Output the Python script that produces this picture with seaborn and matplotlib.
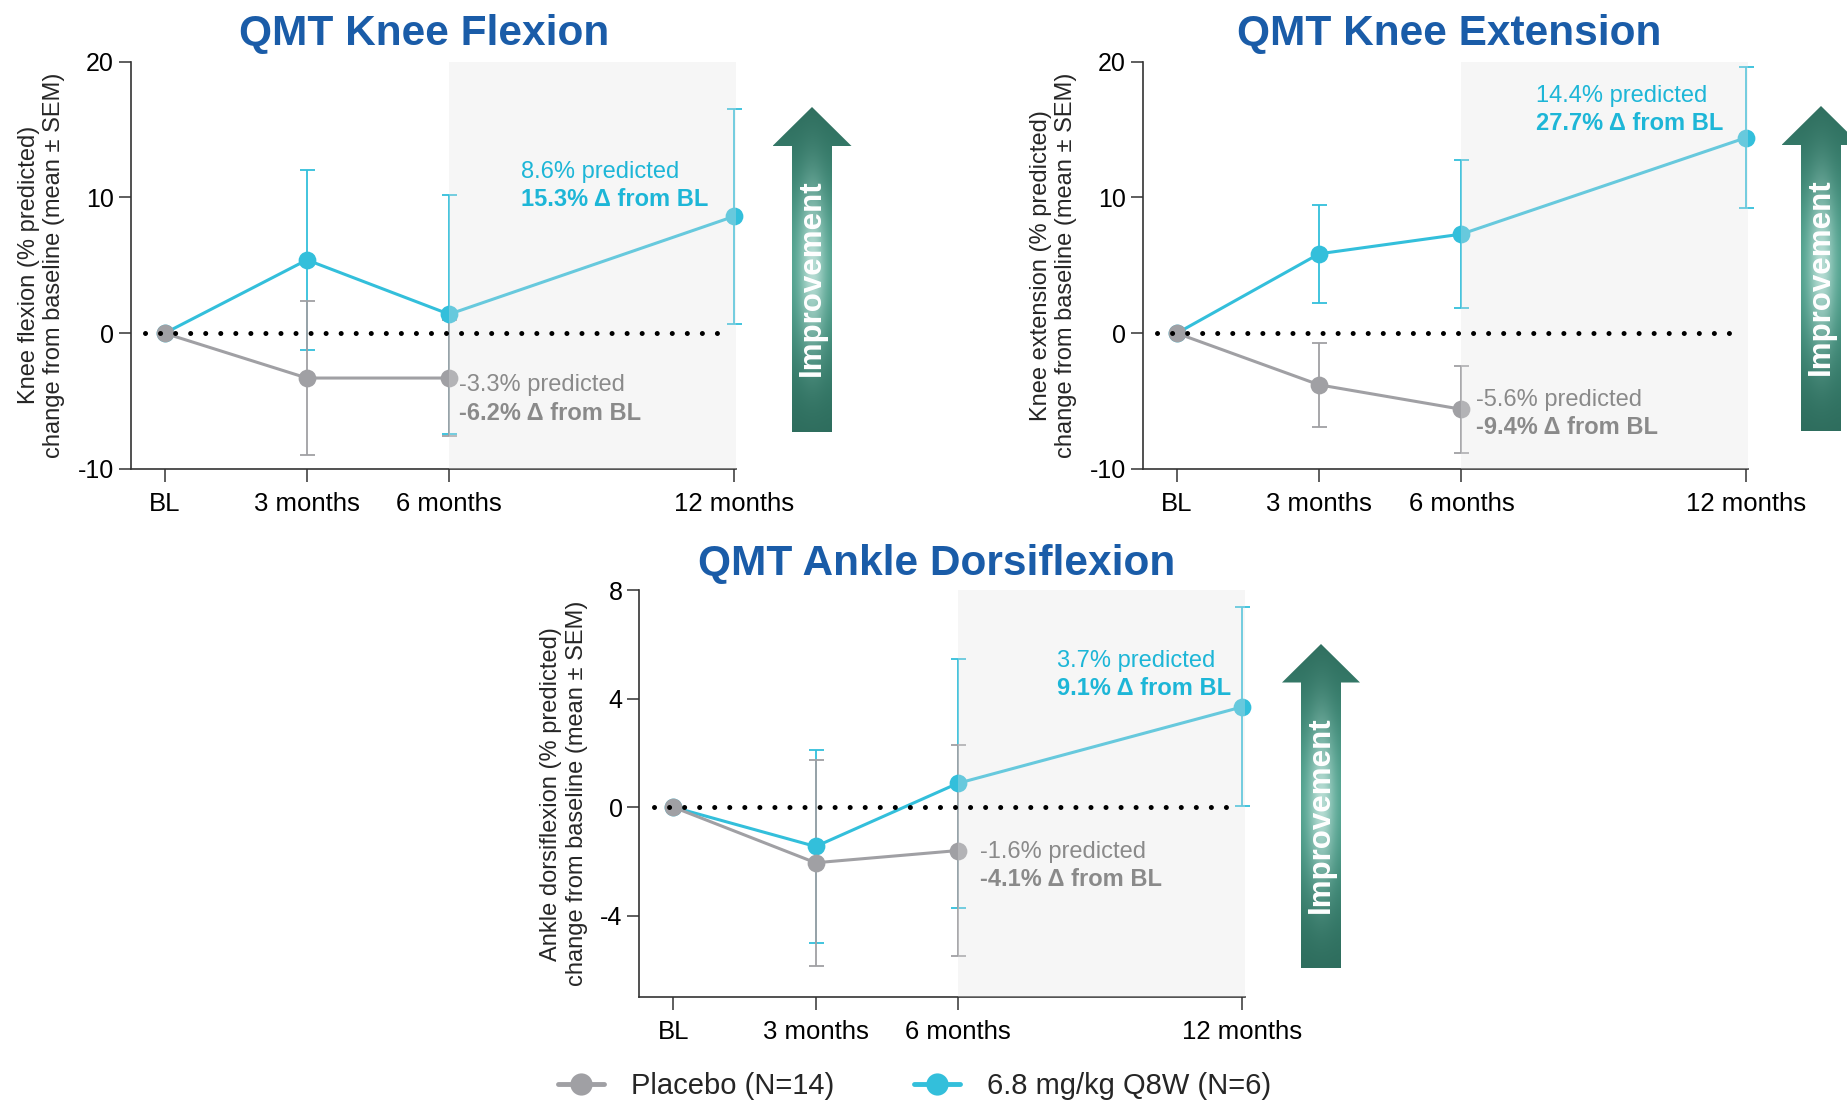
import numpy as np
import pandas as pd
import seaborn as sns
import matplotlib.pyplot as plt
from matplotlib.patches import Polygon
from matplotlib.lines import Line2D

# === Data ===
months = [0, 3, 6, 12]
month_labels = ["BL", "3 months", "6 months", "12 months"]
groups = ["Placebo (N=14)", "6.8 mg/kg Q8W (N=6)"]

# knee flexion
flex_pbo = [0.0, -3.3, -3.3]
flex_pbo_sem = [0.0, 5.65, 4.3]
flex_trt = [0.0, 5.4, 1.4, 8.6]
flex_trt_sem = [0.0, 6.6, 8.8, 7.9]

# knee extension
ext_pbo = [0.0, -3.8, -5.6]
ext_pbo_sem = [0.0, 3.1, 3.2]
ext_trt = [0.0, 5.85, 7.3, 14.4]
ext_trt_sem = [0.0, 3.6, 5.45, 5.2]

# ankle dorsiflexion
dorsi_pbo = [0.0, -2.05, -1.6]
dorsi_pbo_sem = [0.0, 3.8, 3.9]
dorsi_trt = [0.0, -1.45, 0.88, 3.7]
dorsi_trt_sem = [0.0, 3.55, 4.58, 3.67]

titles = ["QMT Knee Flexion", "QMT Knee Extension", "QMT Ankle Dorsiflexion"]
ylabels = ["Knee flexion (% predicted)\nchange from baseline (mean ± SEM)",
           "Knee extension (% predicted)\nchange from baseline (mean ± SEM)",
           "Ankle dorsiflexion (% predicted)\nchange from baseline (mean ± SEM)"]
notes_trt = [("8.6% predicted", "15.3% Δ from BL"),
             ("14.4% predicted", "27.7% Δ from BL"),
             ("3.7% predicted", "9.1% Δ from BL")]
notes_pbo = [("-3.3% predicted", "-6.2% Δ from BL"),
             ("-5.6% predicted", "-9.4% Δ from BL"),
             ("-1.6% predicted", "-4.1% Δ from BL")]

# === Style ===
CYAN = "#33bfdb"
GRAY = "#a0a0a4"
TXT_CYAN = "#1db6d7"
TXT_GRAY = "#8a8a8a"
TITLE_BLUE = "#1a5ca8"
W, H = 1847, 1102

sns.set_theme(style="ticks")
plt.rcParams["font.family"] = ["Liberation Sans", "DejaVu Sans"]
plt.rcParams["axes.unicode_minus"] = False

fig = plt.figure(figsize=(W / 100, H / 100), dpi=100)


def px_axes(left, top, width, height):
    return fig.add_axes([left / W, 1 - (top + height) / H, width / W, height / H])


def draw_panel(ax, pbo, pbo_sem, trt, trt_sem, ylim, yticks, ylabel,
               note_trt, pos_trt, note_pbo, pos_pbo, dy):
    df = pd.concat([
        pd.DataFrame({"month": months[:len(trt)], "value": trt, "sem": trt_sem, "group": groups[1]}),
        pd.DataFrame({"month": months[:len(pbo)], "value": pbo, "sem": pbo_sem, "group": groups[0]}),
    ], ignore_index=True)

    sns.lineplot(data=df, x="month", y="value", hue="group",
                 hue_order=[groups[1], groups[0]],
                 palette={groups[0]: GRAY, groups[1]: CYAN},
                 marker="o", markersize=12.8, markeredgewidth=0,
                 linewidth=2.2, errorbar=None, legend=False, ax=ax, zorder=3)
    for g, c in [(groups[1], CYAN), (groups[0], GRAY)]:
        sub = df[(df["group"] == g) & (df["month"] > 0)]
        ax.errorbar(sub["month"], sub["value"], yerr=sub["sem"], fmt="none",
                    ecolor=c, elinewidth=1.3, capsize=5.4, capthick=1.3, zorder=2.5)
    for art in ax.lines + ax.collections:
        art.set_clip_on(False)

    # shaded 6-12 month window, laid over the series
    ax.axvspan(6, 12.05, color="#e2e2e2", alpha=0.3, lw=0, zorder=5)
    ax.plot([-0.41, 11.9], [0, 0], color="black", lw=3.6,
            linestyle=(0, (0.01, 3.0)), dash_capstyle="round", zorder=6, clip_on=False)

    ax.text(pos_trt[0], pos_trt[1], note_trt[0], color=TXT_CYAN, fontsize=17, va="center", zorder=7)
    ax.text(pos_trt[0], pos_trt[1] - dy, note_trt[1], color=TXT_CYAN, fontsize=17,
            fontweight="bold", va="center", zorder=7)
    ax.text(pos_pbo[0], pos_pbo[1], note_pbo[0], color=TXT_GRAY, fontsize=17, va="center", zorder=7)
    ax.text(pos_pbo[0], pos_pbo[1] - dy, note_pbo[1], color=TXT_GRAY, fontsize=17,
            fontweight="bold", va="center", zorder=7)

    ax.set_xlim(-0.72, 12.05)
    ax.set_ylim(*ylim)
    ax.set_xticks(months)
    ax.set_xticklabels(month_labels)
    ax.set_yticks(yticks)
    ax.set_yticklabels([str(t) for t in yticks])
    ax.set_xlabel("")
    ax.set_ylabel(ylabel, fontsize=17, labelpad=9, linespacing=1.2)
    ax.tick_params(axis="both", direction="out", length=9, width=1.1, colors="#333333",
                   labelcolor="black")
    ax.tick_params(axis="x", pad=7.5, labelsize=18.5)
    ax.tick_params(axis="y", pad=3, labelsize=18)
    sns.despine(ax=ax)
    for s in ["left", "bottom"]:
        ax.spines[s].set_color("#333333")
        ax.spines[s].set_linewidth(1.2)
    ax.grid(False)


def draw_arrow(xc, tip, head_base, bottom, head_half=39.5, shaft_half=20, text_y=None):
    ax = px_axes(xc - head_half, tip, 2 * head_half, bottom - tip)
    ax.set_xlim(xc - head_half, xc + head_half)
    ax.set_ylim(bottom, tip)
    ax.axis("off")
    ny, nx = 300, 80
    yy, xx = np.mgrid[0:1:ny * 1j, 0:1:nx * 1j]
    length = bottom - tip
    yc = (head_base + (bottom - head_base) * 0.42 - tip) / length
    v = np.exp(-((yy - yc) / 0.33) ** 2)
    h = np.exp(-((xx - 0.5) / 0.17) ** 2)
    dark = np.array([0.17, 0.41, 0.35])
    mid = np.array([0.29, 0.62, 0.54])
    light = np.array([0.76, 0.89, 0.86])
    base = dark + (mid - dark) * v[..., None]
    img = base + (light - base) * (v ** 2 * h)[..., None] * 0.9
    im = ax.imshow(img, extent=(xc - head_half, xc + head_half, bottom, tip),
                   origin="upper", aspect="auto", interpolation="bilinear")
    poly = Polygon([(xc, tip), (xc + head_half, head_base), (xc + shaft_half, head_base),
                    (xc + shaft_half, bottom), (xc - shaft_half, bottom),
                    (xc - shaft_half, head_base), (xc - head_half, head_base)],
                   closed=True, facecolor="none", edgecolor="none")
    ax.add_patch(poly)
    im.set_clip_path(poly)
    ax.text(xc, text_y, "Improvement", rotation=90, color="white", fontsize=22.5,
            fontweight="bold", ha="center", va="center")


# === Panels ===
ax1 = px_axes(130.5, 61.7, 605.6, 407.3)
draw_panel(ax1, flex_pbo, flex_pbo_sem, flex_trt, flex_trt_sem, (-10, 20), [-10, 0, 10, 20],
           ylabels[0], notes_trt[0], (7.52, 11.9), notes_pbo[0], (6.2, -3.83), 2.05)

ax2 = px_axes(1142.7, 61.7, 605.6, 407.3)
draw_panel(ax2, ext_pbo, ext_pbo_sem, ext_trt, ext_trt_sem, (-10, 20), [-10, 0, 10, 20],
           ylabels[1], notes_trt[1], (7.58, 17.5), notes_pbo[1], (6.31, -4.9), 2.05)

ax3 = px_axes(639.2, 590.2, 605.6, 406.8)
draw_panel(ax3, dorsi_pbo, dorsi_pbo_sem, dorsi_trt, dorsi_trt_sem, (-7, 8), [-4, 0, 4, 8],
           ylabels[2], notes_trt[2], (8.08, 5.38), notes_pbo[2], (6.46, -1.65), 1.02)

for (x, y), t in zip([(423.7, 33.5), (1449, 33.5), (937, 563.5)], titles):
    fig.text(x / W, 1 - y / H, t, fontsize=30.5, fontweight="bold", color=TITLE_BLUE,
             ha="center", va="center")

draw_arrow(812, 107, 146, 432, text_y=278)
draw_arrow(1821, 106, 145, 431, text_y=277)
draw_arrow(1321, 644, 682.5, 968.5, head_half=39, text_y=815)

# === Legend ===
handles = [Line2D([0], [0], color=GRAY, lw=3.5, marker="o", markersize=16, markeredgewidth=0),
           Line2D([0], [0], color=CYAN, lw=3.5, marker="o", markersize=16, markeredgewidth=0)]
fig.legend(handles, groups, loc="center left", bbox_to_anchor=(558 / W, 1 - 1086 / H),
           ncol=2, frameon=False, fontsize=21, handlelength=1.58, handletextpad=0.92,
           columnspacing=2.75, borderpad=0, borderaxespad=0)

fig.savefig("out.png", dpi=100)
